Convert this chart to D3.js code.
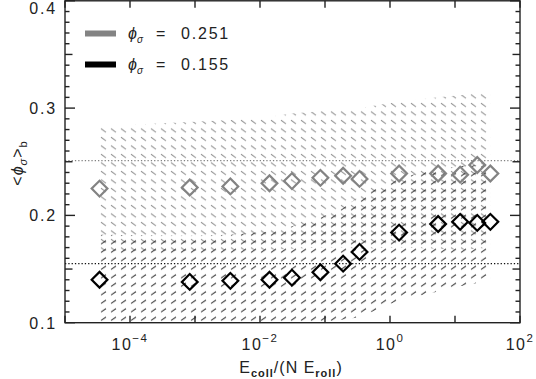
<!DOCTYPE html>
<html><head><meta charset="utf-8">
<script src="https://cdn.jsdelivr.net/npm/d3@7"></script>
<style>
body{margin:0;background:#fff;}
text{font-family:"Liberation Sans",Arial,Helvetica,sans-serif;}
</style></head>
<body><svg id="c" width="536" height="379"></svg>
<script>
// ---- data ----
const xVals = [3.4e-5, 8.3e-4, 3.5e-3, 1.4e-2, 3.1e-2, 8.5e-2, 0.19, 0.34, 1.38, 5.5, 12, 22, 35];
const grayMean  = [0.225, 0.226, 0.227, 0.230, 0.232, 0.235, 0.237, 0.234, 0.239, 0.239, 0.238, 0.247, 0.239];
const grayUpper = [0.283, 0.287, 0.289, 0.292, 0.295, 0.297, 0.299, 0.300, 0.306, 0.310, 0.312, 0.314, 0.313];
const grayLower = [0.167, 0.167, 0.168, 0.168, 0.169, 0.170, 0.170, 0.169, 0.170, 0.169, 0.168, 0.169, 0.170];
const blackMean  = [0.140, 0.138, 0.139, 0.140, 0.142, 0.147, 0.155, 0.166, 0.184, 0.192, 0.194, 0.193, 0.194];
const blackUpper = [0.182, 0.181, 0.182, 0.185, 0.190, 0.198, 0.207, 0.218, 0.235, 0.243, 0.246, 0.247, 0.248];
const blackLower = [0.097, 0.096, 0.097, 0.096, 0.098, 0.100, 0.103, 0.105, 0.121, 0.129, 0.134, 0.137, 0.140];
const refValues = [0.251, 0.155];
const legendLabels = ["0.251", "0.155"];
const yTickLabels = [0.1, 0.2, 0.3, 0.4];
const xTickExps = [-5, -4, -3, -2, -1, 0, 1, 2];
const xLabelExps = [-4, -2, 0, 2];

// ---- layout ----
const L = 65, R = 520, T = 0.8, B = 322.7;
const svg = d3.select("#c");
const x = d3.scaleLog().domain([1e-5, 1e2]).range([L, R]);
const y = d3.scaleLinear().domain([0.1, 0.4]).range([B, T]);
const grayC = "#838383", blackC = "#000";

const defs = svg.append("defs");
defs.append("clipPath").attr("id","clip").append("rect")
  .attr("x",L).attr("y",T).attr("width",R-L).attr("height",B-T);
const pg = defs.append("pattern").attr("id","hatchGray").attr("patternUnits","userSpaceOnUse")
  .attr("width",10).attr("height",8.5);
pg.append("path").attr("d","M1,1.2L6,4.8").attr("stroke","#8f8f8f").attr("stroke-width",1);
const pb = defs.append("pattern").attr("id","hatchBlack").attr("patternUnits","userSpaceOnUse")
  .attr("width",10).attr("height",8.5);
pb.append("path").attr("d","M1,6L6,2.6").attr("stroke","#2a2a2a").attr("stroke-width",1);

const plot = svg.append("g").attr("clip-path","url(#clip)");
const area = (lo, hi) => d3.area().x((d,i)=>x(xVals[i])).y0((d,i)=>y(lo[i])).y1((d,i)=>y(hi[i]));
plot.append("path").datum(xVals).attr("d", area(grayLower, grayUpper)).attr("fill","url(#hatchGray)");
plot.append("path").datum(xVals).attr("d", area(blackLower, blackUpper)).attr("fill","url(#hatchBlack)");

// reference dotted lines
plot.selectAll("line.ref").data(refValues).enter().append("line")
  .attr("x1",L).attr("x2",R).attr("y1",d=>y(d)).attr("y2",d=>y(d))
  .attr("stroke",(d,i)=>i===0?grayC:"#111").attr("stroke-width",1.3)
  .attr("stroke-dasharray","1.3,2");

// diamonds
const sym = d3.symbol().type(d3.symbolSquare).size(124)();
function diamonds(vals, col){
  svg.append("g").selectAll("path").data(vals).enter().append("path")
    .attr("d", sym)
    .attr("transform",(d,i)=>`translate(${x(xVals[i])},${y(d)}) rotate(45)`)
    .attr("fill","none").attr("stroke",col).attr("stroke-width",2.2);
}
diamonds(grayMean, grayC);
diamonds(blackMean, blackC);

// ---- axes frame ----
const ax = svg.append("g").attr("stroke","#222").attr("stroke-width",1.4);
ax.append("rect").attr("x",L).attr("y",T).attr("width",R-L).attr("height",B-T).attr("fill","none");
// y ticks
const yMinor = d3.range(0.1, 0.4001, 0.01);
yMinor.forEach(v=>{
  const k = Math.round(v*100);
  const len = (k%10===0)?10:((k%5===0)?7.5:4.5);
  ax.append("line").attr("x1",L).attr("x2",L+len).attr("y1",y(v)).attr("y2",y(v));
  ax.append("line").attr("x1",R).attr("x2",R-len).attr("y1",y(v)).attr("y2",y(v));
});
// x ticks
xTickExps.forEach(e=>{
  const xv = x(Math.pow(10,e));
  ax.append("line").attr("x1",xv).attr("x2",xv).attr("y1",B).attr("y2",B-7);
  ax.append("line").attr("x1",xv).attr("x2",xv).attr("y1",T).attr("y2",T+7);
});

// y tick labels
svg.append("g").selectAll("text").data(yTickLabels).enter().append("text")
  .attr("x",57).attr("y",d=>Math.max(y(d)+6, 13.5))
  .attr("text-anchor","end").attr("font-size",16).attr("letter-spacing",1.8)
  .attr("fill","#222").text(d=>d.toFixed(1));

// x tick labels
xLabelExps.forEach(e=>{
  const t = svg.append("text").attr("x",x(Math.pow(10,e))).attr("y",350)
    .attr("text-anchor","middle").attr("font-size",16).attr("fill","#222").attr("letter-spacing",1.5);
  t.append("tspan").text("10");
  t.append("tspan").attr("dy",-8).attr("font-size",11.5).text(e<0?"\u2212"+(-e):String(e));
});

// x axis title
const xt = svg.append("text").attr("x",291).attr("y",373).attr("text-anchor","middle")
  .attr("font-size",16).attr("fill","#222").attr("letter-spacing",1);
xt.append("tspan").text("E");
xt.append("tspan").attr("dy",4).attr("font-size",11).attr("font-weight","bold").text("coll");
xt.append("tspan").attr("dy",-4).text("/(N E");
xt.append("tspan").attr("dy",4).attr("font-size",11).attr("font-weight","bold").text("roll");
xt.append("tspan").attr("dy",-4).text(")");

// y axis title
const yt = svg.append("text").attr("transform","translate(23,163) rotate(-90)")
  .attr("text-anchor","middle").attr("font-size",16).attr("fill","#222").attr("letter-spacing",1);
yt.append("tspan").text("<");
yt.append("tspan").attr("font-style","italic").text("\u03d5");
yt.append("tspan").attr("dy",4).attr("font-size",11).attr("font-style","italic").text("\u03c3");
yt.append("tspan").attr("dy",-4).text(">");
yt.append("tspan").attr("dy",4).attr("font-size",11).text("b");

// legend
const legY = [33.5, 64.5];
legendLabels.forEach((lab,i)=>{
  svg.append("line").attr("x1",85).attr("x2",116).attr("y1",legY[i]).attr("y2",legY[i])
    .attr("stroke", i===0?grayC:blackC).attr("stroke-width",6);
  const t = svg.append("text").attr("x",128).attr("y",legY[i]+5.5).attr("font-size",16).attr("fill","#222");
  t.append("tspan").attr("font-style","italic").text("\u03d5");
  t.append("tspan").attr("dy",4).attr("font-size",10).attr("font-style","italic").text("\u03c3");
  t.append("tspan").attr("x",156).attr("dy",-4).text("=");
  t.append("tspan").attr("x",181).attr("letter-spacing",1.8).text(lab);
});
</script></body></html>
